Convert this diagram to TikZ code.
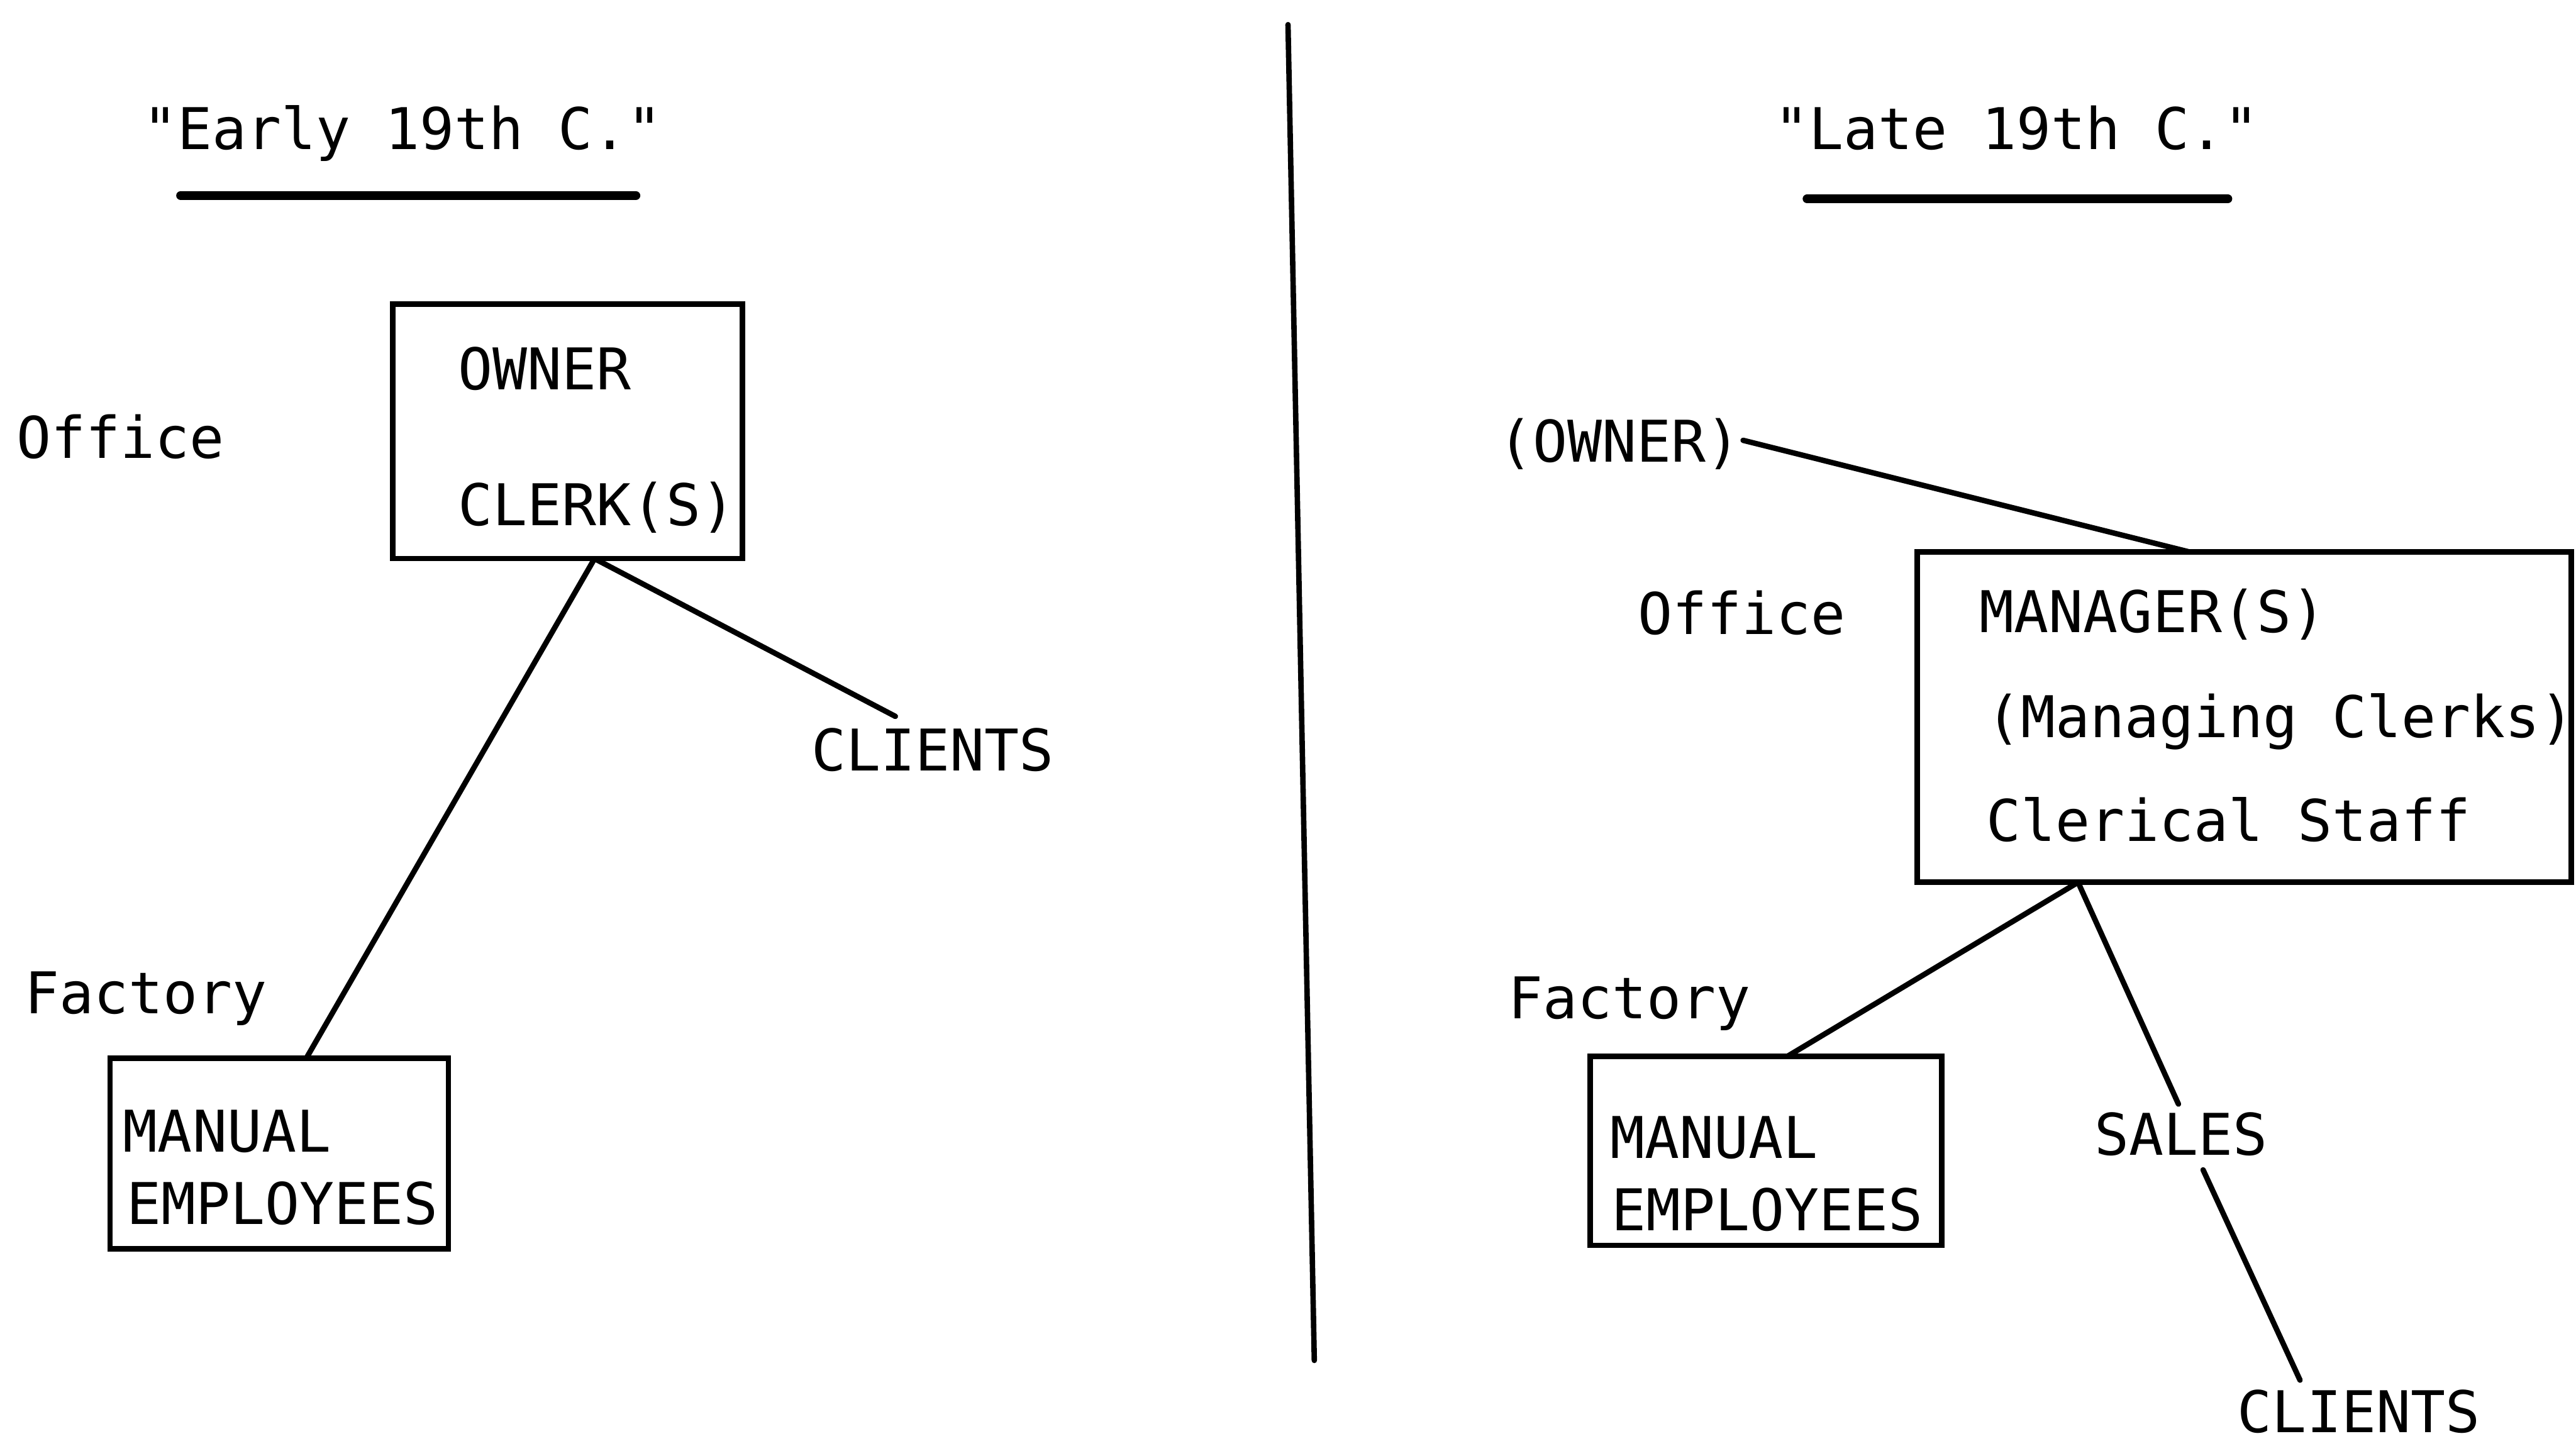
\documentclass[tikz,border=0pt]{standalone}
\usepackage{fontspec}
\usetikzlibrary{calc}
\newfontfamily\twfont{DejaVu Sans Mono}
\begin{document}
\begin{tikzpicture}[x=1pt,y=-1pt,
  lbl/.style={anchor=base west,inner sep=0pt,outer sep=0pt,font=\twfont\fontsize{35}{40}\selectfont},
  boxst/.style={draw,line width=3.3pt,inner sep=0pt,outer sep=0pt},
  conn/.style={line width=3.3pt,line cap=round},
  uline/.style={line width=5.5pt,line cap=round}]
\useasboundingbox (0,0) rectangle (1568,880);

% titles
\node[lbl] (t1) at (87,91) {"Early 19th C."};
\node[lbl] (t2) at (1080,91) {"Late 19th C."};
\coordinate (u1a) at (110,119); \coordinate (u1b) at (387,119);
\coordinate (u2a) at (1100,121); \coordinate (u2b) at (1356,121);
\draw[uline] (u1a) -- (u1b);
\draw[uline] (u2a) -- (u2b);

% divider
\coordinate (d1) at (784,15); \coordinate (d2) at (800,828);
\draw[conn] (d1) -- (d2);

% ---------- left ----------
\node[lbl] (loffice) at (10,279) {Office};
\node[boxst,minimum width=213pt,minimum height=155pt] (lbox) at (345.5,262.5) {};
\node[lbl] (lowner) at (279,237) {OWNER};
\node[lbl] (lclerk) at (279,320) {CLERK(S)};
\node[lbl] (lclients) at (494,469) {CLIENTS};
\node[lbl] (lfactory) at (15,617) {Factory};
\node[boxst,minimum width=206pt,minimum height=116pt] (lman) at (170,702) {};
\node[lbl] (lmanual) at (75,701) {MANUAL};
\node[lbl] (lemp) at (77,745) {EMPLOYEES};

\coordinate (lbs) at ($(lbox.south west)!0.577!(lbox.south east)$);
\coordinate (lmt) at ($(lman.north west)!0.58!(lman.north east)$);
\coordinate (lce) at (545,436);
\draw[conn] (lbs) -- (lmt);
\draw[conn] (lbs) -- (lce);

% ---------- right ----------
\node[lbl] (rowner) at (912,281) {(OWNER)};
\node[lbl] (roffice) at (997,386) {Office};
\node[boxst,minimum width=398pt,minimum height=201pt] (rbox) at (1366,436.5) {};
\node[lbl] (rmgr) at (1205,385) {MANAGER(S)};
\node[lbl] (rmc) at (1209,449) {(Managing Clerks)};
\node[lbl] (rcs) at (1209,512) {Clerical Staff};
\node[lbl] (rfactory) at (918,620) {Factory};
\node[boxst,minimum width=214pt,minimum height=115pt] (rman) at (1075,700.5) {};
\node[lbl] (rmanual) at (980,705) {MANUAL};
\node[lbl] (remp) at (981,749) {EMPLOYEES};
\node[lbl] (rsales) at (1275,703) {SALES};
\node[lbl] (rclients) at (1362,872) {CLIENTS};

\coordinate (roe) at (1061,268);
\coordinate (rbt) at ($(rbox.north west)!0.417!(rbox.north east)$);
\coordinate (rbs) at ($(rbox.south west)!0.246!(rbox.south east)$);
\coordinate (rmt) at ($(rman.north west)!0.56!(rman.north east)$);
\coordinate (rst) at (1326,672);
\coordinate (rsb) at (1341,712);
\coordinate (rct) at (1400,840);
\draw[conn] (roe) -- (rbt);
\draw[conn] (rbs) -- (rmt);
\draw[conn] (rbs) -- (rst);
\draw[conn] (rsb) -- (rct);
\end{tikzpicture}
\end{document}
